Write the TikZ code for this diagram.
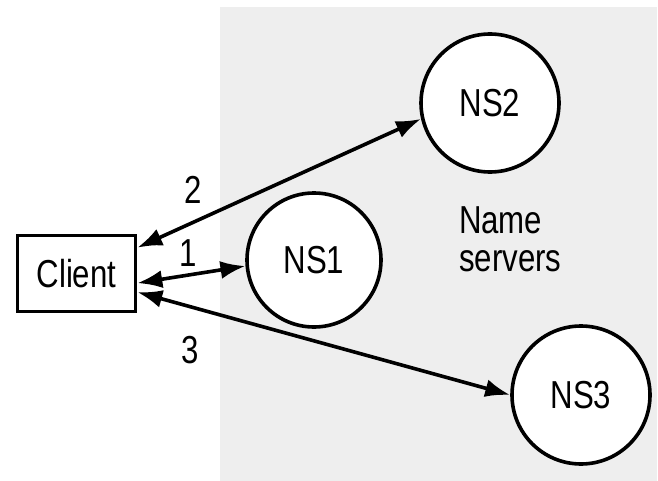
\documentclass[tikz,border=0pt]{standalone}
\usepackage{fontspec}
\setmainfont{Liberation Sans}[FakeStretch=0.8]
\usetikzlibrary{arrows.meta}
\definecolor{areagray}{HTML}{EEEEEE}

\begin{document}
\begin{tikzpicture}[
    x=0.5pt, y=-0.5pt,
    font=\fontsize{19.5}{19}\selectfont,
    % Define custom styles for the nodes
    servernode/.style={
        draw,
        circle,
        fill=white,
        line width=1.8pt,
        minimum size=69pt,
        inner sep=0pt
    },
    clientnode/.style={
        draw,
        rectangle,
        fill=white,
        line width=1.8pt,
        minimum width=59pt,
        minimum height=38pt
    },
    msg/.style={line width=1.8pt, {Latex[length=12.5pt,width=9pt]}-{Latex[length=12.5pt,width=9pt]}}
]

\useasboundingbox (0,0) rectangle (658,481);
% Shaded area of the name servers
\fill[areagray] (220,7) rectangle (657,481);

% Define nodes
\node[clientnode] (client) at (76.5,273.5) {Client};
\node[servernode, minimum size=67pt] (ns1) at (314,260) {NS1};
\node[servernode] (ns2) at (490,103) {NS2};
\node[servernode] (ns3) at (581,395) {NS3};
\node[align=left, anchor=north west] (area) at (452,200) {Name\\servers};

% Edges between client and servers
\draw[msg] (client.23) -- (ns2.193);
\draw[msg] (client.-9) -- (ns1.185);
\draw[msg] (client.-17) -- (ns3.180);

% Step numbers
\node (n2) at (193,190) {2};
\node (n1) at (188,253) {1};
\node (n3) at (190,350) {3};

\end{tikzpicture}
\end{document}
